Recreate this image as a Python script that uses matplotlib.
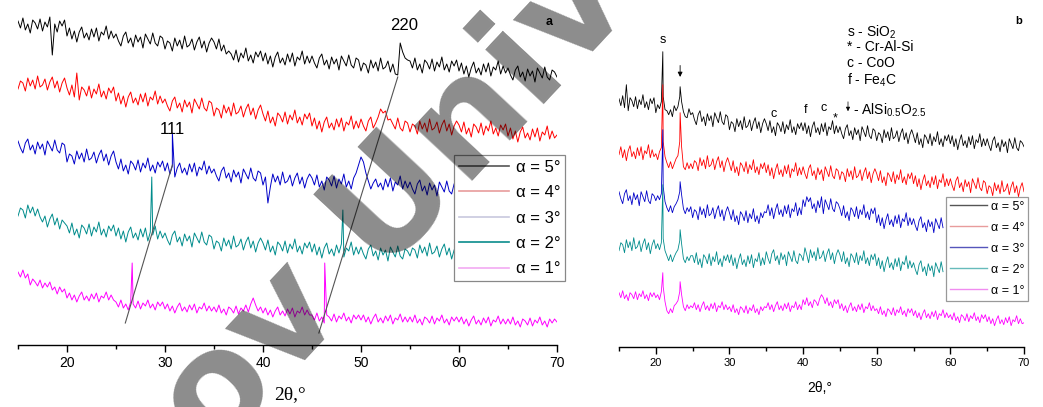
import numpy as np
import matplotlib
matplotlib.use("Agg")
import matplotlib.pyplot as plt
from matplotlib.ticker import MultipleLocator
from matplotlib.lines import Line2D
from matplotlib.patches import FancyArrowPatch

plt.rcParams['font.family'] = ['Liberation Sans', 'DejaVu Sans']
plt.rcParams['mathtext.fontset'] = 'custom'
plt.rcParams['mathtext.rm'] = 'Liberation Sans'
plt.rcParams['mathtext.it'] = 'Liberation Sans:italic'

# ---------------------------------------------------------------------------
# XRD patterns, 2theta from 15 deg in steps of 0.25 deg (a.u., offset traces)
# ---------------------------------------------------------------------------
STEP = 0.25
ANGLES = ["5", "4", "3", "2", "1"]
COLORS = ["#000000", "#ff0000", "#0000c8", "#008c8c", "#ff00ff"]

# ----- panel (a) -----
a_5 = [324, 317, 327, 315, 321, 312, 325, 322, 316, 326, 314, 323, 318, 328, 290, 321, 313, 324, 319, 325,
       309, 317, 306, 314, 303, 313, 318, 307, 312, 305, 316, 308, 317, 304, 313, 310, 319, 306, 314, 307,
       311, 304, 299, 309, 313, 302, 307, 298, 310, 303, 308, 297, 311, 306, 301, 312, 302, 299, 309, 307,
       296, 304, 302, 294, 307, 299, 305, 296, 309, 298, 300, 306, 295, 303, 308, 297, 304, 293, 302, 307,
       303, 296, 306, 294, 300, 291, 294, 291, 285, 295, 283, 292, 287, 297, 284, 290, 282, 293, 288, 294,
       284, 292, 281, 289, 278, 288, 293, 282, 287, 280, 291, 283, 292, 279, 288, 285, 294, 281, 289, 282,
       289, 282, 277, 287, 291, 280, 285, 276, 288, 281, 286, 275, 289, 284, 279, 290, 280, 277, 287, 285,
       274, 282, 280, 272, 285, 277, 283, 274, 287, 276, 278, 284, 273, 281, 271, 270, 302, 293, 287, 285,
       284, 277, 287, 275, 281, 272, 285, 282, 276, 286, 274, 283, 278, 288, 275, 281, 273, 284, 279, 285,
       274, 282, 271, 279, 268, 277, 283, 272, 277, 270, 281, 273, 282, 269, 278, 275, 284, 271, 279, 272,
       277, 270, 265, 275, 279, 268, 273, 264, 276, 269, 274, 263, 277, 272, 267, 278, 268, 265, 275, 273,
       268]
a_4 = [256, 264, 262, 254, 267, 259, 265, 256, 269, 258, 260, 266, 255, 263, 268, 257, 264, 253, 262, 267,
       257, 250, 260, 248, 272, 245, 258, 255, 249, 259, 247, 256, 251, 261, 248, 254, 246, 257, 252, 258,
       244, 252, 241, 249, 238, 248, 253, 242, 247, 240, 251, 243, 252, 239, 248, 245, 254, 241, 249, 242,
       246, 239, 234, 244, 248, 237, 242, 233, 245, 238, 243, 232, 246, 241, 236, 247, 237, 234, 244, 242,
       229, 237, 235, 227, 240, 232, 238, 229, 242, 231, 233, 239, 228, 236, 241, 230, 237, 226, 235, 240,
       231, 224, 234, 222, 228, 219, 232, 229, 223, 233, 221, 230, 225, 235, 222, 228, 220, 231, 226, 232,
       219, 227, 216, 224, 213, 223, 228, 217, 222, 215, 226, 218, 227, 214, 223, 220, 229, 216, 224, 217,
       226, 219, 214, 224, 228, 217, 222, 228, 236, 232, 234, 225, 226, 221, 216, 227, 217, 214, 224, 222,
       213, 221, 219, 211, 224, 216, 222, 213, 226, 215, 217, 223, 212, 220, 225, 214, 221, 210, 219, 224,
       220, 213, 223, 211, 217, 208, 221, 218, 212, 222, 210, 219, 214, 224, 211, 217, 209, 220, 215, 221,
       209, 217, 206, 214, 203, 213, 218, 207, 212, 205, 216, 208, 217, 204, 213, 210, 219, 206, 214, 207,
       210]
a_3 = [204, 197, 192, 202, 206, 195, 200, 191, 203, 196, 201, 190, 204, 199, 194, 205, 195, 192, 202, 200,
       183, 191, 189, 181, 194, 186, 192, 183, 196, 185, 187, 193, 182, 190, 195, 184, 191, 180, 189, 194,
       183, 176, 186, 174, 180, 171, 184, 181, 175, 185, 173, 182, 177, 187, 174, 180, 172, 183, 178, 184,
       174, 182, 171, 179, 168, 177, 182, 172, 177, 170, 181, 173, 182, 169, 178, 175, 184, 171, 179, 172,
       176, 169, 164, 174, 178, 167, 172, 163, 175, 168, 173, 162, 176, 171, 166, 177, 167, 164, 174, 172,
       160, 168, 142, 158, 171, 163, 169, 160, 173, 162, 164, 170, 159, 167, 172, 161, 168, 157, 166, 171,
       167, 160, 170, 158, 164, 155, 168, 165, 159, 169, 157, 166, 161, 171, 158, 164, 156, 167, 172, 180,
       188, 183, 172, 164, 156, 162, 166, 158, 162, 155, 166, 158, 167, 154, 163, 160, 169, 156, 164, 157,
       163, 156, 151, 161, 165, 154, 159, 150, 162, 155, 160, 149, 163, 158, 153, 164, 154, 151, 161]
a_2 = [129, 137, 135, 127, 140, 132, 138, 129, 136, 128, 123, 129, 118, 126, 131, 120, 127, 116, 125, 122,
       119, 112, 122, 110, 116, 107, 120, 117, 111, 121, 109, 118, 113, 123, 110, 116, 108, 119, 114, 120,
       109, 117, 106, 114, 103, 113, 118, 107, 112, 105, 116, 108, 117, 104, 113, 110, 119, 106, 114, 107,
       112, 105, 100, 110, 114, 103, 108, 99, 111, 104, 109, 98, 112, 107, 102, 113, 103, 100, 110, 108,
       96, 104, 102, 94, 107, 99, 105, 96, 109, 98, 100, 106, 95, 103, 108, 97, 104, 93, 102, 107,
       102, 95, 105, 93, 99, 90, 103, 100, 94, 104, 92, 101, 96, 106, 93, 99, 91, 102, 97, 103,
       93, 101, 90, 98, 87, 97, 102, 91, 96, 89, 100, 92, 101, 88, 97, 94, 103, 90, 98, 91,
       98, 91, 86, 96, 100, 89, 94, 85, 97, 90, 95, 84, 98, 93, 88, 99, 89, 86, 96, 94,
       89, 97, 95, 87, 100, 92, 98, 89, 102, 91, 93, 99, 88, 96, 101, 90, 97, 86, 95]
a_1 = [73, 68, 75, 67, 71, 60, 66, 63, 59, 65, 57, 62, 58, 63, 55, 58, 51, 58, 53, 56,
       47, 52, 45, 50, 43, 49, 53, 45, 49, 44, 51, 46, 52, 43, 49, 47, 53, 45, 50, 45,
       43, 38, 45, 37, 41, 35, 43, 41, 37, 44, 36, 42, 39, 45, 37, 41, 35, 43, 39, 43,
       36, 41, 34, 39, 32, 38, 42, 34, 38, 33, 40, 35, 41, 32, 38, 36, 42, 34, 39, 34,
       38, 33, 40, 32, 36, 30, 38, 36, 32, 39, 31, 37, 34, 40, 33, 41, 47, 40, 34, 38,
       32, 37, 30, 35, 28, 34, 38, 30, 34, 29, 36, 31, 37, 28, 34, 32, 38, 30, 35, 30,
       30, 25, 32, 24, 28, 22, 30, 28, 24, 31, 23, 29, 26, 32, 24, 28, 22, 30, 26, 30,
       25, 30, 23, 28, 21, 27, 31, 23, 27, 22, 29, 24, 30, 21, 27, 25, 31, 23, 28, 23,
       28, 23, 30, 22, 26, 20, 28, 26, 22, 29, 21, 27, 24, 30, 22, 26, 20, 28, 24, 28,
       23, 28, 21, 26, 19, 25, 29, 21, 25, 20, 27, 22, 28, 19, 25, 23, 29, 21, 26, 21,
       26, 21, 28, 20, 24, 18, 26, 24, 20, 27, 19, 25, 22, 28, 20, 24, 18, 26, 22, 26,
       23]
# narrow reflections lying between grid points: (2theta, intensity)
a_peaks = {"5": [], "4": [],
           "3": [(30.75, 212)],
           "2": [(28.65, 168), (48.15, 135)],
           "1": [(26.65, 82), (46.3, 82)]}

# ----- panel (b) -----
b_5 = [248, 241, 251, 239, 262, 236, 249, 246, 240, 250, 238, 247, 242, 252, 239, 245, 237, 248, 243, 249,
       234, 242, 238, 245, 250, 237, 236, 232, 237, 230, 241, 236, 240, 250, 245, 235, 230, 229, 238, 232,
       234, 227, 222, 232, 236, 225, 230, 221, 233, 226, 231, 220, 234, 229, 224, 235, 225, 222, 232, 230,
       217, 225, 223, 215, 228, 220, 226, 217, 230, 219, 221, 227, 216, 224, 229, 218, 225, 214, 223, 228,
       223, 216, 226, 214, 220, 211, 224, 221, 215, 225, 213, 222, 217, 227, 214, 220, 212, 223, 218, 224,
       216, 224, 213, 221, 210, 220, 225, 214, 219, 212, 223, 215, 224, 211, 220, 217, 226, 213, 221, 214,
       220, 213, 208, 218, 222, 211, 216, 207, 219, 212, 217, 206, 220, 215, 210, 221, 211, 208, 218, 216,
       206, 214, 212, 204, 217, 209, 215, 206, 219, 208, 210, 216, 205, 213, 218, 207, 214, 203, 212, 217,
       211, 204, 214, 202, 208, 199, 212, 209, 203, 213, 201, 210, 205, 215, 202, 208, 200, 211, 206, 212,
       203, 211, 200, 208, 197, 206, 212, 201, 206, 199, 210, 202, 211, 198, 207, 204, 213, 200, 208, 201,
       208, 201, 196, 206, 210, 199, 204, 195, 207, 200, 205, 194, 208, 203, 198, 209, 199, 196, 206, 204,
       200]
b_4 = [192, 200, 189, 197, 186, 196, 201, 190, 195, 188, 199, 191, 200, 187, 196, 193, 202, 189, 197, 190,
       193, 187, 195, 199, 205, 190, 184, 179, 185, 178, 183, 188, 191, 205, 200, 180, 177, 184, 178, 183,
       178, 186, 184, 176, 189, 181, 187, 178, 191, 180, 182, 188, 177, 185, 190, 179, 186, 175, 184, 189,
       183, 176, 186, 174, 180, 171, 184, 181, 175, 185, 173, 182, 177, 187, 174, 180, 172, 183, 178, 184,
       174, 182, 171, 179, 168, 177, 183, 172, 177, 170, 181, 173, 182, 169, 178, 175, 184, 171, 179, 172,
       180, 173, 168, 178, 182, 171, 176, 167, 179, 172, 177, 166, 180, 175, 170, 181, 171, 168, 178, 176,
       167, 175, 173, 165, 178, 170, 176, 167, 180, 169, 171, 177, 166, 174, 179, 168, 175, 164, 173, 178,
       173, 166, 176, 164, 170, 161, 174, 171, 165, 175, 163, 172, 167, 177, 164, 170, 162, 173, 168, 174,
       163, 171, 160, 168, 157, 166, 172, 161, 166, 159, 170, 162, 171, 158, 167, 164, 173, 160, 168, 161,
       168, 161, 156, 166, 170, 159, 164, 155, 167, 160, 165, 154, 168, 163, 158, 169, 159, 156, 166, 164,
       153, 161, 159, 151, 164, 156, 162, 153, 166, 155, 157, 163, 152, 160, 165, 154, 161, 150, 159, 164,
       155]
b_3 = [155, 148, 143, 153, 157, 146, 151, 142, 154, 147, 152, 141, 155, 150, 145, 156, 146, 143, 153, 151,
       146, 151, 147, 153, 160, 145, 139, 135, 141, 134, 140, 143, 147, 155, 152, 138, 133, 139, 135, 140,
       129, 137, 135, 127, 140, 132, 138, 129, 142, 131, 133, 139, 128, 136, 141, 130, 137, 126, 135, 140,
       134, 127, 137, 125, 131, 122, 135, 132, 126, 136, 124, 133, 128, 138, 125, 131, 123, 134, 129, 135,
       134, 142, 131, 139, 128, 137, 143, 132, 137, 130, 141, 133, 142, 129, 138, 135, 144, 131, 139, 132,
       147, 140, 150, 145, 149, 138, 143, 134, 146, 139, 150, 133, 147, 142, 137, 148, 138, 135, 145, 143,
       138, 131, 141, 129, 135, 126, 139, 136, 130, 140, 128, 137, 132, 142, 129, 135, 127, 138, 133, 139,
       124, 132, 121, 129, 118, 127, 133, 122, 127, 120, 131, 123, 132, 119, 128, 125, 134, 121, 129, 122,
       128, 121, 116, 126, 130, 119, 124, 115, 127, 120, 125, 114, 128, 123, 118, 129, 119]
b_2 = [96, 104, 102, 94, 107, 99, 105, 96, 109, 98, 100, 106, 95, 103, 108, 97, 104, 93, 102, 107,
       98, 103, 97, 104, 108, 96, 91, 86, 92, 85, 90, 94, 97, 106, 103, 88, 84, 90, 86, 91,
       91, 84, 94, 82, 88, 79, 92, 89, 83, 93, 81, 90, 85, 95, 82, 88, 80, 91, 86, 92,
       84, 92, 81, 89, 78, 87, 93, 82, 87, 80, 91, 83, 92, 79, 88, 85, 94, 81, 89, 82,
       95, 88, 83, 93, 97, 86, 91, 82, 94, 87, 92, 81, 95, 90, 85, 96, 86, 83, 93, 91,
       86, 99, 92, 84, 97, 89, 95, 86, 99, 88, 90, 96, 85, 93, 98, 87, 94, 83, 92, 97,
       92, 85, 95, 83, 89, 80, 93, 90, 84, 94, 82, 91, 86, 96, 83, 89, 81, 92, 87, 93,
       81, 89, 78, 86, 75, 84, 90, 79, 84, 77, 88, 80, 89, 76, 85, 82, 91, 78, 86, 79,
       84, 77, 72, 82, 86, 75, 80, 71, 83, 76, 81, 70, 84, 79, 74, 85, 75]
b_1 = [54, 49, 56, 48, 52, 46, 54, 52, 48, 55, 47, 53, 50, 56, 48, 52, 46, 54, 50, 54,
       49, 52, 47, 55, 60, 45, 36, 33, 38, 34, 41, 43, 46, 55, 52, 40, 36, 42, 38, 41,
       39, 44, 37, 42, 35, 41, 45, 37, 41, 36, 43, 38, 44, 35, 41, 39, 45, 37, 42, 37,
       40, 35, 42, 34, 38, 32, 40, 38, 34, 41, 33, 39, 36, 42, 34, 38, 32, 40, 36, 40,
       39, 44, 37, 42, 35, 41, 45, 37, 41, 36, 43, 38, 44, 35, 41, 39, 45, 37, 42, 37,
       47, 42, 49, 41, 45, 39, 47, 45, 41, 48, 52, 49, 43, 49, 41, 45, 39, 47, 43, 47,
       38, 43, 36, 41, 34, 40, 44, 36, 40, 35, 42, 37, 43, 34, 40, 38, 44, 36, 41, 36,
       38, 33, 40, 32, 36, 30, 38, 36, 32, 39, 31, 37, 34, 40, 32, 36, 30, 38, 34, 38,
       31, 36, 29, 34, 27, 33, 37, 29, 33, 28, 35, 30, 36, 27, 33, 31, 37, 29, 34, 29,
       32, 27, 34, 26, 30, 24, 32, 30, 26, 33, 25, 31, 28, 34, 26, 30, 24, 32, 28, 32,
       25, 30, 23, 28, 21, 27, 31, 23, 27, 22, 29, 24, 30, 21, 27, 25, 31, 23, 28, 23,
       24]
b_peaks = {"5": [(20.95, 295), (23.3, 260)],
           "4": [(20.95, 262), (23.3, 234)],
           "3": [(20.95, 217), (23.3, 165)],
           "2": [(20.95, 162), (23.3, 117)],
           "1": [(20.95, 74), (23.3, 65)]}

# guide lines through the (111) and (220) reflections in panel (a)
guide_111 = ([25.95, 30.75], [22, 180])
guide_220 = ([45.7, 53.75], [12, 268])

# phase marks in panel (b): (label, 2theta, height)
b_marks = [("s", 21.0, 307), ("c", 36.0, 233), ("f", 40.4, 237),
           ("c", 42.8, 239), ("*", 44.4, 228)]
b_arrow = (23.3, 284, 267)

a_series = [a_5, a_4, a_3, a_2, a_1]
b_series = [b_5, b_4, b_3, b_2, b_1]

W, H = 1043, 407
fig = plt.figure(figsize=(W / 100, H / 100), dpi=100)


def fx(px):
    return px / W


def fy(py):
    return 1 - py / H


def trace(values, peaks):
    x = 15 + STEP * np.arange(len(values))
    y = np.asarray(values, dtype=float)
    if peaks:
        px_, py_ = zip(*peaks)
        x = np.concatenate([x, px_])
        y = np.concatenate([y, py_])
        order = np.argsort(x, kind="stable")
        x, y = x[order], y[order]
    return x, y


def style_axis(ax, fs):
    for s in ("left", "right", "top"):
        ax.spines[s].set_visible(False)
    ax.spines["bottom"].set_linewidth(1.0)
    ax.set_yticks([])
    ax.set_xlim(15, 70)
    ax.xaxis.set_major_locator(MultipleLocator(10))
    ax.xaxis.set_minor_locator(MultipleLocator(5))
    ax.tick_params(axis="x", which="major", direction="out", length=5,
                   width=1.0, labelsize=fs, pad=3)
    ax.tick_params(axis="x", which="minor", direction="out", length=3,
                   width=1.0)
    ax.patch.set_alpha(0)


# ---------------- panel (a) ----------------
ax_a = fig.add_axes([fx(18), fy(345), fx(557 - 18), 345 / H])
style_axis(ax_a, 10)
ax_a.set_ylim(0, 345)
for ang, vals, col in zip(ANGLES, a_series, COLORS):
    x, y = trace(vals, a_peaks[ang])
    ax_a.plot(x, y, color=col, lw=0.7)
ax_a.plot(*guide_111, color="#555555", lw=0.8)
ax_a.plot(*guide_220, color="#555555", lw=0.8)
ax_a.text(30.75, 216, "111", fontsize=12, ha="center", va="center")
ax_a.text(54.4, 320, "220", fontsize=12, ha="center", va="center")
fig.text(fx(549), fy(22), "a", fontsize=9, fontweight="bold",
         ha="center", va="center")
fig.text(fx(290), fy(395), "2θ,°", fontsize=14, family="Liberation Serif",
         ha="center", va="center")

leg_cols_a = ["#555555", "#e89c9c", "#c8c8de", "#0a8c8c", "#f2aaf2"]
handles_a = [Line2D([], [], color=c, lw=1.2) for c in leg_cols_a]
leg_a = fig.legend(handles_a, [f"α = {a}°" for a in ANGLES],
                   loc="upper left", bbox_to_anchor=(fx(454), fy(155)),
                   bbox_transform=fig.transFigure, borderaxespad=0,
                   fontsize=12, handlelength=3.0, handletextpad=0.4,
                   labelspacing=0.62, borderpad=0.3, fancybox=False,
                   framealpha=1, edgecolor="#888888")
leg_a.get_frame().set_linewidth(0.9)

# ---------------- panel (b) ----------------
ax_b = fig.add_axes([fx(619), fy(346.7), fx(1024 - 619), 346.7 / H])
style_axis(ax_b, 8)
ax_b.set_ylim(0, 346.7)
for ang, vals, col in zip(ANGLES, b_series, COLORS):
    x, y = trace(vals, b_peaks[ang])
    ax_b.plot(x, y, color=col, lw=0.6)
for lab, xx, yy in b_marks:
    ax_b.text(xx, yy, lab, fontsize=9, ha="center", va="center")
ax_b.annotate("", xy=(b_arrow[0], b_arrow[2]), xytext=(b_arrow[0], b_arrow[1]),
              arrowprops=dict(arrowstyle="-|>", lw=0.6, color="k",
                              mutation_scale=7))
fig.text(fx(1019), fy(21), "b", fontsize=8, fontweight="bold",
         ha="center", va="center")
fig.text(fx(820), fy(388), "2θ,°", fontsize=10, ha="center", va="center")

key_lines = [("s - SiO$_2$", 32), ("* - Cr-Al-Si", 47), ("c - CoO", 63),
             ("f - Fe$_4$C", 80)]
for txt, yy in key_lines:
    fig.text(fx(847), fy(yy), txt, fontsize=10, ha="left", va="center")
fig.text(fx(853), fy(110), "- AlSi$_{0.5}$O$_{2.5}$", fontsize=10,
         ha="left", va="center")
fig.add_artist(FancyArrowPatch(
    (fx(848), fy(99)), (fx(848), fy(114)), transform=fig.transFigure,
    arrowstyle="-|>", mutation_scale=6, lw=0.5, color="k"))

leg_cols_b = ["#555555", "#e89c9c", "#5555bb", "#66bbbb", "#f08cf0"]
handles_b = [Line2D([], [], color=c, lw=1.0) for c in leg_cols_b]
leg_b = fig.legend(handles_b, [f"α = {a}°" for a in ANGLES],
                   loc="upper left", bbox_to_anchor=(fx(946), fy(197)),
                   bbox_transform=fig.transFigure, borderaxespad=0,
                   fontsize=9, handlelength=3.0, handletextpad=0.3,
                   labelspacing=0.72, borderpad=0.3, fancybox=False,
                   framealpha=1, edgecolor="#999999")
leg_b.get_frame().set_linewidth(0.9)

# watermark across the figure
fig.text(fx(429), fy(168), "ov Unive", fontsize=106, fontweight="bold",
         color="black", alpha=0.45, rotation=47, rotation_mode="anchor",
         ha="center", va="center", family="DejaVu Sans", zorder=20)

fig.savefig("out.png", dpi=100)
